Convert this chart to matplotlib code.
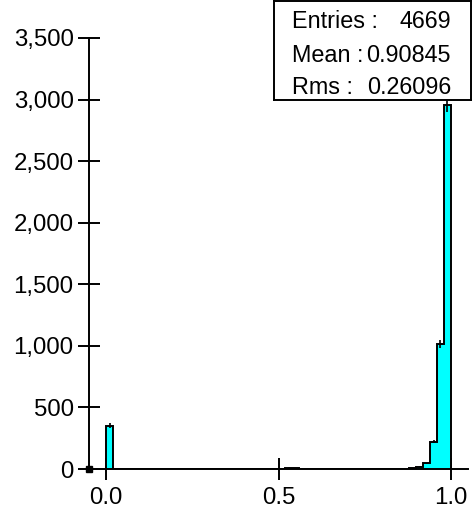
import numpy as np
import matplotlib
matplotlib.use("Agg")
import matplotlib.pyplot as plt
from matplotlib.ticker import FuncFormatter

plt.rcParams['font.family'] = ['Liberation Sans', 'DejaVu Sans']

# bin edges (50 bins of 0.02 from 0 to 1)
bin_edges = np.linspace(0.0, 1.0, 51)
# counts per bin
counts = [352, 0, 0, 0, 0, 0, 0, 0, 0, 0,
          0, 0, 0, 0, 0, 0, 0, 1, 0, 0,
          0, 0, 0, 1, 0, 2, 10, 6, 3, 2,
          3, 2, 1, 3, 2, 2, 2, 2, 2, 2,
          3, 2, 3, 4, 6, 20, 46, 222, 1013, 2952]
x_ticks = [0.0, 0.5, 1.0]
x_tick_labels = ["0.0", "0.5", "1.0"]
y_ticks = [0, 500, 1000, 1500, 2000, 2500, 3000, 3500]
stats_labels = ["Entries :", "Mean :", "Rms :"]
stats_values = ["4669", "0.90845", "0.26096"]

counts = np.array(counts, dtype=float)
centers = 0.5 * (bin_edges[:-1] + bin_edges[1:])

fig = plt.figure(figsize=(4.72, 5.15), dpi=100)
ax = fig.add_axes([89/472, 46/515, (468-89)/472, (469-38)/515])

ax.stairs(counts, bin_edges, fill=True, color='#00FFFF', zorder=2)
ax.stairs(counts, bin_edges, fill=False, color='black', lw=1.4, baseline=0, zorder=3)
nz = counts > 0
ax.errorbar(centers[nz], counts[nz], yerr=np.sqrt(counts[nz]), fmt='none',
            ecolor='black', elinewidth=1.2, capsize=0, zorder=3)
ax.plot([-0.05], [0], marker='s', color='black', ms=4, clip_on=False, zorder=5)

ax.set_xlim(-0.05, 1.05)
ax.set_ylim(0, 3500)
ax.set_xticks(x_ticks)
ax.set_xticklabels(x_tick_labels)
ax.set_yticks(y_ticks)
ax.yaxis.set_major_formatter(FuncFormatter(lambda v, p: f"{int(v):,}"))
ax.tick_params(axis='both', direction='inout', length=16, width=1.4,
               labelsize=17.3, pad=3)
ax.tick_params(axis='x', pad=5)
for s in ['top', 'right']:
    ax.spines[s].set_visible(False)
for s in ['left', 'bottom']:
    ax.spines[s].set_linewidth(1.4)

# stats box
box_ax = fig.add_axes([274/472, 1 - 100/515, (471-274)/472, 99/515])
box_ax.set_xlim(0, 1)
box_ax.set_ylim(0, 1)
box_ax.set_xticks([])
box_ax.set_yticks([])
box_ax.set_facecolor('white')
for s in box_ax.spines.values():
    s.set_linewidth(1.4)
rows_y = [1 - 21/99, 1 - 54/99, 1 - 86/99]
for lab, val, yy in zip(stats_labels, stats_values, rows_y):
    box_ax.text((292-274)/197, yy, lab, ha='left', va='center', fontsize=16.8)
    box_ax.text((451-274)/197, yy, val, ha='right', va='center', fontsize=16.8)

fig.savefig("out.png", dpi=100)
